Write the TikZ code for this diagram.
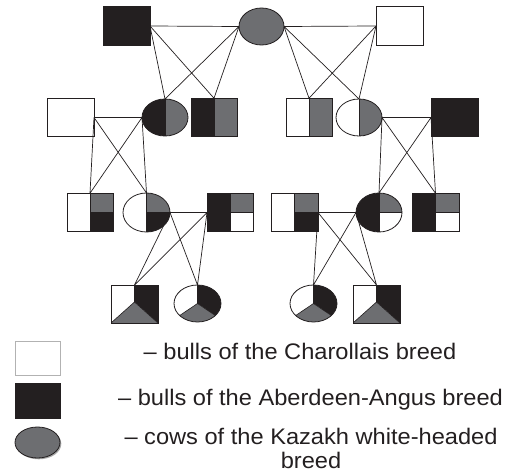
\documentclass[tikz,border=0pt]{standalone}
\usepackage{fontspec}
\newfontfamily\lsans{Liberation Sans}
\usetikzlibrary{shapes.geometric,shadows,calc}
\definecolor{ink}{HTML}{231F20}
\definecolor{gr}{HTML}{6D6E71}
\begin{document}
\begin{tikzpicture}[x=1pt,y=1pt,
  base/.style={draw=ink, line width=0.8pt, inner sep=0pt, outer sep=0pt, fill=white},
  sq/.style={base, rectangle, minimum width=47pt, minimum height=38.5pt},
  el/.style={base, ellipse, minimum width=46pt, minimum height=37pt},
  el3/.style={base, ellipse, minimum width=47pt, minimum height=39pt},
  div/.style={draw=ink, line width=0.6pt},
  conn/.style={draw=ink, line width=0.7pt},
  half/.style 2 args={path picture={
     \fill[#1] (path picture bounding box.south west) rectangle (path picture bounding box.north);
     \fill[#2] (path picture bounding box.south) rectangle (path picture bounding box.north east);
     \draw[div] (path picture bounding box.north) -- (path picture bounding box.south);}},
  quad/.style n args={3}{path picture={
     \fill[#1] (path picture bounding box.south west) rectangle (path picture bounding box.north);
     \fill[#2] (path picture bounding box.center) rectangle (path picture bounding box.north east);
     \fill[#3] (path picture bounding box.center) rectangle (path picture bounding box.south east);
     \draw[div] (path picture bounding box.north) -- (path picture bounding box.south)
                (path picture bounding box.center) -- (path picture bounding box.east);}},
  sqpie/.style={path picture={
     \coordinate (pc) at ([yshift=2pt]path picture bounding box.center);
     \fill[ink] (path picture bounding box.north) -- (path picture bounding box.north east) -- (path picture bounding box.south east) -- (pc) -- cycle;
     \fill[gr] (pc) -- (path picture bounding box.south east) -- (path picture bounding box.south west) -- cycle;
     \draw[div] (path picture bounding box.north) -- (pc) -- (path picture bounding box.south west) (pc) -- (path picture bounding box.south east);}},
  elpie/.style={path picture={
     \coordinate (pc) at (path picture bounding box.center);
     \fill[ink] (pc) -- ([shift={(90:50pt)}]pc) -- ([shift={(30:50pt)}]pc) -- ([shift={(-34:50pt)}]pc) -- cycle;
     \fill[gr] (pc) -- ([shift={(-34:50pt)}]pc) -- ([shift={(-90:50pt)}]pc) -- ([shift={(214:50pt)}]pc) -- cycle;
     \draw[div] (pc) -- ([shift={(90:30pt)}]pc) (pc) -- ([shift={(-34:30pt)}]pc) (pc) -- ([shift={(214:30pt)}]pc);}},
  lbl/.style={font=\lsans\fontsize{22.5}{25}\selectfont, inner sep=0pt, text=ink},
  shad/.style={drop shadow={shadow xshift=1.3pt, shadow yshift=-1.3pt, fill=gray!70, opacity=1}}
]
\useasboundingbox (0,0) rectangle (513,472);

% row 1
\node[sq, fill=ink] (A) at (126.5,446) {};
\node[el, fill=gr, minimum width=45pt] (K) at (261.5,445.5) {};
\node[sq] (C) at (399.5,446) {};

% row 2
\node[sq] (c2a) at (70.5,354.5) {};
\node[el, half={ink}{gr}] (c2b) at (165,354.5) {};
\node[sq, minimum width=46pt, half={ink}{gr}] (c2c) at (214,354.5) {};
\node[sq, minimum width=46pt, half={white}{gr}] (c2d) at (309,354.5) {};
\node[el, half={white}{gr}] (c2e) at (359,354.5) {};
\node[sq, fill=ink] (c2f) at (454.5,354.5) {};

% row 3
\node[sq, minimum width=46pt, quad={white}{gr}{ink}] (r3a) at (90,259.5) {};
\node[el3, quad={white}{gr}{ink}] (r3b) at (146.5,259.5) {};
\node[sq, minimum width=46pt, quad={ink}{gr}{white}] (r3c) at (230,259.5) {};
\node[sq, quad={white}{gr}{ink}] (r3d) at (294.5,259.5) {};
\node[el3, minimum width=46pt, quad={ink}{gr}{white}] (r3e) at (379,259.5) {};
\node[sq, quad={ink}{gr}{white}] (r3f) at (435.5,259.5) {};

% row 4
\node[sq, minimum height=38pt, sqpie] (r4a) at (134.5,168) {};
\node[el, minimum width=47pt, elpie] (r4b) at (197.5,168.5) {};
\node[el, minimum width=47pt, elpie] (r4c) at (313.5,168.5) {};
\node[sq, minimum height=38pt, sqpie] (r4d) at (376.5,168) {};

% connectors
\draw[conn] (A.east) -- (K.west) (K.east) -- (C.west);
\draw[conn] (A.east) -- (c2b.north) (A.east) -- (c2c.north) (K.west) -- (c2b.north) (K.west) -- (c2c.north);
\draw[conn] (K.east) -- (c2d.north) (K.east) -- (c2e.north) (C.west) -- (c2d.north) (C.west) -- (c2e.north);
\draw[conn] (c2a.east) -- (c2b.west) (c2a.east) -- (r3a.north) (c2a.east) -- (r3b.north) (c2b.west) -- (r3a.north) (c2b.west) -- (r3b.north);
\draw[conn] (c2e.east) -- (c2f.west) (c2e.east) -- (r3e.north) (c2e.east) -- (r3f.north) (c2f.west) -- (r3e.north) (c2f.west) -- (r3f.north);
\draw[conn] (r3b.east) -- (r3c.west) (r3b.east) -- (r4a.north) (r3b.east) -- (r4b.north) (r3c.west) -- (r4a.north) (r3c.west) -- (r4b.north);
\draw[conn] (r3d.east) -- (r3e.west) (r3d.east) -- (r4c.north) (r3d.east) -- (r4d.north) (r3e.west) -- (r4c.north) (r3e.west) -- (r4d.north);

% legend
\node[base, rectangle, draw=gray!60, minimum width=45pt, minimum height=34pt, shad] (L1) at (37.5,114) {};
\node[base, rectangle, fill=ink, minimum width=45pt, minimum height=35pt] (L2) at (37.5,71.5) {};
\node[base, ellipse, fill=gr, minimum width=45pt, minimum height=31pt, shad] (L3) at (37.5,29.5) {};
\node[lbl, anchor=base] (T1) at (300,113) {\scalebox{1.05}[1]{– bulls of the Charollais breed}};
\node[lbl, anchor=base] (T2) at (310.5,67) {\scalebox{1.05}[1]{– bulls of the Aberdeen-Angus breed}};
\node[lbl, anchor=base, text depth=0pt] (T3) at (311,4) {\scalebox{1.05}[1]{\begin{tabular}[b]{@{}c@{}}– cows of the Kazakh white-headed\\[-1pt]breed\end{tabular}}};
\end{tikzpicture}
\end{document}
